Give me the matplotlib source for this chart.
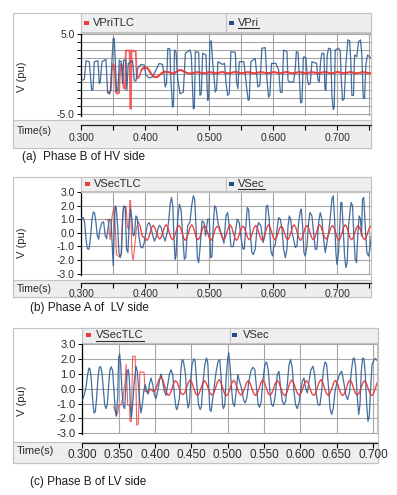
import matplotlib
matplotlib.use("Agg")
import matplotlib.pyplot as plt
from matplotlib.patches import Rectangle
from matplotlib.ticker import MultipleLocator, FixedLocator, FormatStrFormatter

plt.rcParams['font.family'] = ['Liberation Sans', 'DejaVu Sans']

# ------------------------------------------------------------------ data
# Panel (a): Phase B of HV side  -- VPri (blue), VPriTLC (red)
a_blue_t = [0.2995, 0.3047, 0.3073, 0.3125, 0.3146, 0.3161, 0.3182, 0.3203, 0.3260, 0.3281,
            0.3296, 0.3322, 0.3385, 0.3411, 0.3437, 0.3458, 0.3478, 0.3499, 0.3515, 0.3530,
            0.3551, 0.3572, 0.3593, 0.3624, 0.3645, 0.3660, 0.3697, 0.3712, 0.3733, 0.3801,
            0.3827, 0.3853, 0.3879, 0.3931, 0.3983, 0.4009, 0.4061, 0.4113, 0.4165, 0.4217,
            0.4269, 0.4295, 0.4310, 0.4331, 0.4352, 0.4383, 0.4399, 0.4425, 0.4440, 0.4456,
            0.4480, 0.4506, 0.4542, 0.4594, 0.4626, 0.4698, 0.4719, 0.4750, 0.4766, 0.4782,
            0.4834, 0.4854, 0.4875, 0.4896, 0.4948, 0.4974, 0.4990, 0.5010, 0.5031, 0.5052,
            0.5094, 0.5114, 0.5135, 0.5208, 0.5239, 0.5260, 0.5286, 0.5312, 0.5338, 0.5406,
            0.5426, 0.5447, 0.5468, 0.5541, 0.5562, 0.5582, 0.5608, 0.5624, 0.5650, 0.5718,
            0.5738, 0.5759, 0.5790, 0.5822, 0.5874, 0.5900, 0.5926, 0.5946, 0.5972, 0.6042,
            0.6084, 0.6110, 0.6136, 0.6162, 0.6214, 0.6230, 0.6250, 0.6318, 0.6344, 0.6360,
            0.6386, 0.6406, 0.6427, 0.6448, 0.6469, 0.6479, 0.6510, 0.6531, 0.6552, 0.6578,
            0.6604, 0.6677, 0.6698, 0.6718, 0.6739, 0.6760, 0.6791, 0.6807, 0.6822, 0.6843,
            0.6864, 0.6895, 0.6916, 0.6937, 0.6952, 0.6968, 0.7020, 0.7046, 0.7062, 0.7082,
            0.7108, 0.7134, 0.7166, 0.7192, 0.7212, 0.7228, 0.7254, 0.7270, 0.7306, 0.7332,
            0.7363, 0.7384, 0.7405, 0.7426, 0.7446, 0.7472, 0.7519, 0.7535]
a_blue_v = [-0.91, -0.70, 1.62, 1.50, -0.61, -2.09, -1.96, 1.50, 1.62, -1.24,
            -1.03, 1.50, 1.79, -2.30, -2.51, -2.09, 1.50, 4.45, 4.37, 1.50,
            -2.22, -2.13, 1.71, 1.50, -1.24, 1.71, 1.71, -2.09, 1.29, 1.62,
            -0.82, -0.95, 0.65, 1.16, 1.08, -0.19, -0.53, -0.40, 0.44, 1.29,
            1.16, -0.19, -1.67, -1.24, 3.19, 3.10, -0.61, -4.20, -3.99, 2.97,
            2.76, -0.61, -2.51, -2.30, 2.55, 2.97, 2.34, -4.41, -4.32, 2.76,
            2.68, -2.72, -2.51, 2.55, 2.34, -3.35, -3.14, 4.03, 4.11, 1.50,
            -2.30, -1.88, 1.50, 1.16, 1.29, -1.03, -2.72, -2.51, 2.76, 2.68,
            -1.03, -1.88, 1.50, 1.50, -0.19, -1.67, -3.35, -3.23, 1.50, 1.92,
            0.23, -1.67, -1.46, 3.19, 3.27, -0.61, -2.93, -2.72, 1.29, 1.29,
            0.44, -2.30, -2.38, 2.97, 2.76, -0.82, -1.03, -1.03, 0.65, 2.76,
            2.68, -0.19, -3.65, -3.57, 1.92, 2.13, 2.00, -0.61, -1.37, -1.24,
            1.50, 1.29, -0.82, -1.03, 1.50, 2.55, 2.55, -1.88, -2.09, 2.34,
            3.19, 3.10, -2.72, -4.49, -4.20, 2.97, 3.19, 2.85, -0.61, -3.35,
            -3.14, 1.08, 4.24, 4.16, 1.50, -2.72, -2.72, 2.34, 2.13, 4.03,
            4.24, 2.34, -2.93, -3.14, 1.08, 2.34, 2.00, 1.90]
a_red_early_t = [0.3411, 0.3437, 0.3458, 0.3478, 0.3500, 0.3520, 0.3540, 0.3560, 0.3590,
                 0.3610, 0.3640, 0.3660, 0.3685, 0.3695, 0.3755, 0.3765, 0.3775, 0.3785, 0.3850,
                 0.3865, 0.3880, 0.3910, 0.3940, 0.3980, 0.4020, 0.4060, 0.4100, 0.4140, 0.4180,
                 0.4220, 0.4260, 0.4300, 0.4360, 0.4420]
a_red_early_v = [-2.30, -2.51, -2.09, 0.50, 1.20, 0.80, -2.30, -2.50, -2.40,
                 1.20, 1.00, -1.80, -1.90, 2.90, 2.90, -4.40, -4.40, 2.90, 2.80,
                 0.00, -0.60, -0.30, 0.50, 0.75, 0.80, 0.40, -0.10, -0.40, -0.45,
                 -0.20, 0.10, 0.25, 0.20, 0.05]
a_red_steady_start, a_red_steady_step = 0.445, 0.005
a_red_steady_v = [0.02, 0.35, 0.48, 0.30, 0.10, 0.02, 0.08, 0.18, 0.15, 0.06,
                  0.10, 0.20, 0.14, 0.06, 0.12, 0.20, 0.13, 0.05, 0.12, 0.21,
                  0.14, 0.06, 0.11, 0.19, 0.13, 0.05, 0.12, 0.20, 0.14, 0.07,
                  0.11, 0.19, 0.14, 0.06, 0.12, 0.21, 0.13, 0.05, 0.11, 0.20,
                  0.14, 0.06, 0.12, 0.19, 0.13, 0.06, 0.12, 0.20, 0.14, 0.05,
                  0.11, 0.21, 0.14, 0.06, 0.12, 0.20, 0.13, 0.05, 0.12, 0.19,
                  0.14, 0.06, 0.12]

# Panel (b): Phase A of LV side -- VSec (blue), VSecTLC (red)
b_blue_t = [0.2995, 0.3031, 0.3052, 0.3073, 0.3094, 0.3120, 0.3146, 0.3166, 0.3187, 0.3208,
            0.3229, 0.3250, 0.3270, 0.3291, 0.3322, 0.3348, 0.3374, 0.3395, 0.3416, 0.3437,
            0.3463, 0.3484, 0.3499, 0.3515, 0.3530, 0.3546, 0.3567, 0.3588, 0.3608, 0.3629,
            0.3650, 0.3666, 0.3686, 0.3707, 0.3728, 0.3749, 0.3770, 0.3790, 0.3811, 0.3832,
            0.3853, 0.3874, 0.3900, 0.3926, 0.3957, 0.3983, 0.4009, 0.4035, 0.4061, 0.4092,
            0.4118, 0.4144, 0.4170, 0.4196, 0.4222, 0.4248, 0.4279, 0.4310, 0.4342, 0.4368,
            0.4388, 0.4409, 0.4430, 0.4446, 0.4466, 0.4480, 0.4506, 0.4532, 0.4558, 0.4584,
            0.4610, 0.4631, 0.4662, 0.4698, 0.4724, 0.4750, 0.4771, 0.4792, 0.4813, 0.4834,
            0.4854, 0.4886, 0.4917, 0.4943, 0.4974, 0.5000, 0.5021, 0.5042, 0.5062, 0.5083,
            0.5104, 0.5135, 0.5166, 0.5198, 0.5229, 0.5260, 0.5286, 0.5312, 0.5338, 0.5374,
            0.5406, 0.5437, 0.5468, 0.5499, 0.5525, 0.5546, 0.5572, 0.5593, 0.5614, 0.5640,
            0.5666, 0.5686, 0.5718, 0.5744, 0.5770, 0.5806, 0.5842, 0.5868, 0.5889, 0.5910,
            0.5936, 0.5962, 0.5988, 0.6006, 0.6032, 0.6058, 0.6084, 0.6110, 0.6136, 0.6162,
            0.6188, 0.6214, 0.6230, 0.6250, 0.6271, 0.6292, 0.6318, 0.6344, 0.6370, 0.6396,
            0.6422, 0.6438, 0.6458, 0.6479, 0.6500, 0.6526, 0.6552, 0.6573, 0.6604, 0.6630,
            0.6656, 0.6682, 0.6708, 0.6734, 0.6760, 0.6786, 0.6812, 0.6838, 0.6864, 0.6890,
            0.6916, 0.6937, 0.6958, 0.6978, 0.6994, 0.7020, 0.7041, 0.7056, 0.7072, 0.7093,
            0.7114, 0.7134, 0.7155, 0.7176, 0.7202, 0.7218, 0.7238, 0.7259, 0.7280, 0.7301,
            0.7322, 0.7342, 0.7363, 0.7379, 0.7394, 0.7415, 0.7436, 0.7462, 0.7488, 0.7509,
            0.7530]
b_blue_v = [1.01, 1.13, 0.76, -0.47, -1.16, -1.20, -0.22, 1.01, 1.55, 1.45,
            0.76, -0.22, -0.47, 0.27, 0.76, 0.81, -0.22, -0.42, 0.27, 1.01,
            0.96, -0.96, -2.43, 0.52, 1.99, 1.87, 0.52, -1.45, -1.82, -1.45,
            1.50, 1.99, 1.87, -1.20, -1.45, 0.76, 1.75, 1.01, -0.22, -0.10,
            1.25, 1.13, -0.22, -1.01, -1.11, -0.71, 0.02, 0.64, 0.76, 0.32,
            -0.22, -0.61, -0.27, 0.27, 0.57, 0.40, -0.22, -0.59, 0.02, 1.01,
            2.11, 2.61, 1.99, -0.22, -1.94, -1.70, 1.01, 2.11, 1.75, -0.22,
            -1.94, -1.82, 0.52, 0.81, 1.99, 2.73, 2.48, 0.52, -1.82, -2.19,
            -1.20, 0.89, 0.76, -0.22, 1.01, 1.01, -1.82, -1.75, 0.52, 1.99,
            1.87, 0.76, 0.27, -0.22, -0.76, 1.25, 1.50, 0.52, -1.01, -1.01,
            0.02, 1.01, 0.76, -0.47, -1.16, -1.20, 0.52, 1.87, 1.75, 0.02,
            -1.45, -1.60, -1.20, 0.27, 0.76, 0.52, -0.71, -0.22, 1.94, 2.04,
            1.01, -1.33, -1.70, -1.08, -0.84, 0.27, 1.13, 1.01, 0.27, -1.20,
            -1.82, -1.20, 0.52, 1.25, 1.01, 0.02, -0.47, -1.08, -0.96, 0.76,
            1.62, 1.75, 0.52, -1.45, -1.70, -0.96, 0.76, 1.50, 1.25, 0.02,
            -1.20, -1.20, 0.76, 1.50, 1.01, -0.47, -1.45, -0.71, 0.02, 1.13,
            2.48, 2.73, 1.01, -1.45, -2.31, -1.45, 0.76, 2.24, 2.24, 0.27,
            -1.70, -2.56, -2.19, 0.52, 1.75, 2.24, 1.99, -0.22, -1.94, -2.19,
            0.02, 1.25, 1.01, -0.22, 2.48, 2.61, 0.52, -1.45, -1.70, -1.20,
            -0.22]
b_red_early_t = [0.3380, 0.3420, 0.3450, 0.3480, 0.3510, 0.3530, 0.3550, 0.3590, 0.3620, 0.3640,
                 0.3660, 0.3700, 0.3720, 0.3740, 0.3760, 0.3770, 0.3790, 0.3810, 0.3830, 0.3860,
                 0.3890, 0.3920, 0.3950, 0.3975]
b_red_early_v = [1.00, 0.90, -0.50, 1.20, 1.90, 0.50, -1.60, -1.75, -1.60, 0.80,
                 1.90, 1.95, 0.50, 0.20, 2.40, 2.30, -1.50, -2.00, -1.20, 0.30,
                 0.85, 0.50, -0.20, -0.35]
b_red_steady_start, b_red_steady_step = 0.4000, 0.0025
b_red_steady_v = [-0.38, -0.55, -0.40, 0.02, 0.40, 0.55, 0.38, 0.02,
                  -0.32, -0.45, -0.30, 0.05, 0.43, 0.60, 0.42, 0.03,
                  -0.35, -0.50, -0.34, 0.04, 0.39, 0.55, 0.40, 0.01,
                  -0.39, -0.55, -0.38, 0.02, 0.42, 0.60, 0.41, 0.02,
                  -0.36, -0.50, -0.35, 0.03, 0.40, 0.55, 0.38, 0.00,
                  -0.38, -0.55, -0.39, 0.01, 0.36, 0.50, 0.36, 0.02,
                  -0.35, -0.50, -0.34, 0.05, 0.43, 0.60, 0.41, 0.03,
                  -0.39, -0.55, -0.37, 0.00, 0.35, 0.50, 0.36, 0.01,
                  -0.36, -0.50, -0.33, 0.04, 0.40, 0.55, 0.39, 0.02,
                  -0.38, -0.55, -0.39, 0.02, 0.42, 0.60, 0.43, 0.03,
                  -0.35, -0.50, -0.36, 0.01, 0.36, 0.50, 0.35, 0.00,
                  -0.36, -0.50, -0.34, 0.04, 0.43, 0.60, 0.42, 0.02,
                  -0.39, -0.55, -0.38, 0.02, 0.39, 0.55, 0.40, 0.01,
                  -0.35, -0.50, -0.36, 0.03, 0.42, 0.60, 0.41, 0.02,
                  -0.32, -0.45, -0.31, 0.04, 0.39, 0.55, 0.38, 0.01,
                  -0.39, -0.55, -0.38, 0.02, 0.43, 0.60, 0.42, 0.02,
                  -0.36, -0.50, -0.35, 0.03, 0.40, 0.55, 0.38, 0.01,
                  -0.35, -0.50, -0.36, 0.01, 0.36, 0.50, 0.35, 0.00]

# Panel (c): Phase B of LV side -- VSec (blue), VSecTLC (red)
c_blue_t = [0.2996, 0.3005, 0.3028, 0.3050, 0.3073, 0.3092, 0.3106, 0.3124, 0.3142, 0.3161,
            0.3179, 0.3197, 0.3216, 0.3234, 0.3252, 0.3271, 0.3289, 0.3308, 0.3326, 0.3344,
            0.3363, 0.3381, 0.3399, 0.3418, 0.3436, 0.3454, 0.3468, 0.3487, 0.3500, 0.3514,
            0.3528, 0.3546, 0.3565, 0.3583, 0.3601, 0.3620, 0.3633, 0.3647, 0.3661, 0.3675,
            0.3693, 0.3716, 0.3739, 0.3757, 0.3776, 0.3794, 0.3808, 0.3826, 0.3845, 0.3867,
            0.3886, 0.3904, 0.3923, 0.3946, 0.3969, 0.3991, 0.4014, 0.4037, 0.4060, 0.4083,
            0.4106, 0.4129, 0.4152, 0.4175, 0.4198, 0.4221, 0.4244, 0.4267, 0.4290, 0.4304,
            0.4314, 0.4337, 0.4355, 0.4374, 0.4392, 0.4420, 0.4438, 0.4456, 0.4475, 0.4493,
            0.4511, 0.4534, 0.4553, 0.4576, 0.4599, 0.4622, 0.4640, 0.4658, 0.4686, 0.4709,
            0.4727, 0.4741, 0.4755, 0.4773, 0.4796, 0.4819, 0.4842, 0.4869, 0.4892, 0.4910,
            0.4929, 0.4943, 0.4961, 0.4979, 0.5002, 0.5016, 0.5035, 0.5053, 0.5071, 0.5094,
            0.5117, 0.5140, 0.5163, 0.5190, 0.5218, 0.5241, 0.5264, 0.5292, 0.5319, 0.5347,
            0.5374, 0.5397, 0.5420, 0.5439, 0.5462, 0.5484, 0.5512, 0.5535, 0.5558, 0.5581,
            0.5604, 0.5627, 0.5650, 0.5665, 0.5683, 0.5706, 0.5729, 0.5752, 0.5775, 0.5798,
            0.5821, 0.5844, 0.5866, 0.5889, 0.5912, 0.5935, 0.5958, 0.5981, 0.6004, 0.6027,
            0.6050, 0.6073, 0.6096, 0.6119, 0.6146, 0.6174, 0.6197, 0.6220, 0.6243, 0.6270,
            0.6293, 0.6316, 0.6339, 0.6362, 0.6385, 0.6408, 0.6431, 0.6454, 0.6477, 0.6509,
            0.6541, 0.6569, 0.6596, 0.6624, 0.6651, 0.6679, 0.6702, 0.6725, 0.6743, 0.6761,
            0.6784, 0.6803, 0.6821, 0.6839, 0.6858, 0.6876, 0.6894, 0.6913, 0.6931, 0.6949,
            0.6968, 0.6986, 0.7005, 0.7030, 0.7060]
c_blue_v = [-0.80, -0.73, -0.39, 0.06, 0.96, 1.40, 1.36, 0.62, -0.73, -1.63,
            -1.56, -0.62, 0.73, 1.45, 1.49, 1.07, 0.06, -1.07, -1.34, -1.07,
            0.28, 1.29, 1.49, 1.18, -0.17, -1.47, -1.85, -0.62, 2.08, 2.35,
            1.63, -0.17, -1.18, -1.34, 0.28, 1.18, 1.29, 0.73, -1.07, -1.97,
            -1.07, 0.51, 1.52, 1.18, 0.06, -1.07, -1.63, -1.07, -0.17, 0.28,
            -0.17, -0.35, 0.28, 0.73, 0.28, -0.39, -0.66, -0.17, 0.51, 1.00,
            0.51, -0.17, -0.44, 0.28, 0.96, 1.29, 0.96, -0.39, -1.29, -1.40,
            -1.18, -0.62, 1.18, 1.97, 1.85, 0.96, -0.62, -1.29, -0.96, 0.73,
            1.63, 2.03, 1.85, 0.28, -1.07, -1.40, -1.18, 0.28, 1.63, 2.08,
            1.74, 0.06, -1.40, -1.52, -0.62, 0.28, 1.18, 1.85, 1.97, 0.73,
            -1.07, -1.34, -1.07, 0.73, 2.08, 2.42, 1.40, 0.06, -0.96, -1.18,
            -0.17, 0.96, 0.51, 0.06, -0.73, -0.96, -0.62, 0.51, 1.18, 1.45,
            1.29, 0.06, -1.07, -1.25, -0.84, 0.51, 1.63, 1.81, 1.29, -0.17,
            -1.07, -1.18, -0.62, 0.06, 0.96, 1.18, 0.06, -0.84, -1.07, -0.84,
            0.28, 1.63, 1.97, 1.40, -0.17, -1.07, -1.34, -0.96, -0.17, 0.51,
            0.73, 0.06, -0.28, 0.51, 1.29, 1.52, 0.96, -0.39, -1.07, -1.11,
            -0.17, 1.18, 1.81, 1.67, 0.28, -1.29, -1.74, -1.29, -0.17, 0.51,
            1.00, 1.18, 0.51, -0.39, -0.73, -0.17, 1.18, 2.03, 2.08, 1.40,
            -0.62, -1.74, -1.07, 1.18, 2.08, 2.03, 0.96, -1.07, -2.19, -1.85,
            0.06, 1.63, 1.85, 2.05, 1.90]
c_red_early_t = [0.3430, 0.3455, 0.3470, 0.3490, 0.3500, 0.3530, 0.3560, 0.3590, 0.3602, 0.3615,
                 0.3625, 0.3650, 0.3657, 0.3675, 0.3693, 0.3726, 0.3740, 0.3749, 0.3770, 0.3794,
                 0.3850, 0.3863, 0.3886, 0.3910, 0.3930]
c_red_early_v = [-1.20, -1.50, -1.80, -1.60, -1.10, -1.10, -0.60, 0.50, 1.65, 0.30,
                 -1.10, -1.10, -2.20, -2.20, 2.20, 2.20, 0.00, -2.45, -2.40, 1.15,
                 1.10, -0.20, -0.10, -0.30, 0.00]
c_red_steady_start, c_red_steady_step = 0.3958, 0.0025
c_red_steady_v = [-0.10, -0.20, -0.05, 0.30, 0.65, 0.80, 0.60, 0.20,
                  -0.25, -0.45, -0.35, 0.00, 0.40, 0.55, 0.40, 0.05,
                  -0.30, -0.40, -0.30, 0.05, 0.42, 0.60, 0.42, 0.05,
                  -0.32, -0.45, -0.32, 0.02, 0.38, 0.55, 0.38, 0.02,
                  -0.30, -0.42, -0.30, 0.04, 0.44, 0.62, 0.43, 0.05,
                  -0.33, -0.47, -0.33, 0.02, 0.40, 0.58, 0.41, 0.03,
                  -0.30, -0.42, -0.31, 0.03, 0.38, 0.55, 0.39, 0.02,
                  -0.32, -0.45, -0.32, 0.04, 0.43, 0.60, 0.42, 0.04,
                  -0.31, -0.44, -0.30, 0.02, 0.39, 0.56, 0.40, 0.03,
                  -0.33, -0.46, -0.33, 0.03, 0.42, 0.60, 0.41, 0.03,
                  -0.30, -0.43, -0.31, 0.02, 0.38, 0.55, 0.39, 0.02,
                  -0.32, -0.45, -0.33, 0.04, 0.43, 0.62, 0.43, 0.04,
                  -0.31, -0.44, -0.31, 0.02, 0.40, 0.57, 0.40, 0.03,
                  -0.33, -0.46, -0.32, 0.03, 0.42, 0.60, 0.42, 0.03,
                  -0.30, -0.43, -0.30, 0.02, 0.38, 0.55, 0.38, 0.02,
                  -0.32, -0.45, -0.32, 0.04, 0.43, 0.60, 0.42, 0.03]

legend_names = [("VPriTLC", "VPri"), ("VSecTLC", "VSec"), ("VSecTLC", "VSec")]
captions = ["(a)  Phase B of HV side", "(b) Phase A of  LV side", "(c) Phase B of LV side"]


def sampled(start, step, values):
    return [round(start + i * step, 5) for i in range(len(values))]


a_red_t = a_red_early_t + sampled(a_red_steady_start, a_red_steady_step, a_red_steady_v)
a_red_v = a_red_early_v + a_red_steady_v
b_red_t = b_red_early_t + sampled(b_red_steady_start, b_red_steady_step, b_red_steady_v)
b_red_v = b_red_early_v + b_red_steady_v
c_red_t = c_red_early_t + sampled(c_red_steady_start, c_red_steady_step, c_red_steady_v)
c_red_v = c_red_early_v + c_red_steady_v

# ------------------------------------------------------------------ style
W, H = 397, 495
BLUE = '#2f5f95'
RED = '#f03a3a'
GRID = '#a6a6a6'
BAR = '#eeeeee'
EDGE = '#c2c2c2'
TXT = '#2b2b2b'

fig = plt.figure(figsize=(W / 100, H / 100), dpi=100)
bg = fig.add_axes([0, 0, 1, 1])
bg.set_xlim(0, W)
bg.set_ylim(H, 0)
bg.axis('off')


def frac(x0, y0, x1, y1):
    return [x0 / W, 1 - y1 / H, (x1 - x0) / W, (y1 - y0) / H]


def box(x0, y0, x1, y1, fc, ec=EDGE, lw=0.8):
    bg.add_patch(Rectangle((x0, y0), x1 - x0, y1 - y0, facecolor=fc, edgecolor=ec, linewidth=lw))


panels = [
    dict(frame=(13, 13, 371, 148), leg=(81, 13, 371, 32), div=226, plot=(81, 33, 371, 116),
         tbar=(13, 120, 371, 148), axis_y=125, ylim=(-5.3, 5.1), ymajor=[-5.0, 5.0], yminor=1.0,
         xlim=(0.2995, 0.7527), xmajor=0.1, xminor=0.05, tfs=7.5, yfs=7.5, red_lw=1.3,
         red_mark=(84, 20.5), blue_mark=(229, 20.5), red_txt=(93, 22.8), blue_txt=(238, 22.8),
         under=1, timelab_y=131.5, vlabel_y=77, cap=(22, 157), tlab_fs=7.5, xpad=2.5),
    dict(frame=(13, 177, 371, 297), leg=(81, 177, 371, 191), div=226, plot=(81, 191.5, 371, 275),
         tbar=(13, 280, 371, 297), axis_y=283.3, ylim=(-3.1, 3.05), ymajor=[-3, -2, -1, 0, 1, 2, 3],
         yminor=None, xlim=(0.2995, 0.7527), xmajor=0.1, xminor=0.05, tfs=7.5, yfs=7.5, red_lw=0.8,
         red_mark=(85, 182), blue_mark=(229, 182), red_txt=(94, 184), blue_txt=(238, 184),
         under=1, timelab_y=289.5, vlabel_y=243, cap=(30, 308.5), tlab_fs=7.5, xpad=0.5),
    dict(frame=(13, 328, 378, 463), leg=(82, 328, 378, 343), div=230, plot=(82, 343.3, 377, 434.3),
         tbar=(13, 441.7, 378, 463), axis_y=443, ylim=(-3.07, 3.07), ymajor=[-3, -2, -1, 0, 1, 2, 3],
         yminor=None, xlim=(0.2996, 0.7055), xmajor=0.05, xminor=None, tfs=8.5, yfs=8, red_lw=0.8,
         red_mark=(86, 333), blue_mark=(232, 333), red_txt=(96, 335.5), blue_txt=(243, 335.5),
         under=0, timelab_y=451, vlabel_y=401, cap=(30, 482), tlab_fs=8, xpad=0.8),
]
series = [(a_blue_t, a_blue_v, a_red_t, a_red_v),
          (b_blue_t, b_blue_v, b_red_t, b_red_v),
          (c_blue_t, c_blue_v, c_red_t, c_red_v)]

underline_jobs = []
for p, (bt, bv, rt, rv), names, cap in zip(panels, series, legend_names, captions):
    x0, y0, x1, y1 = p['frame']
    box(x0, y0, x1, y1, 'white')
    box(*p['tbar'], BAR)
    lx0, ly0, lx1, ly1 = p['leg']
    box(lx0, ly0, lx1, ly1, BAR)
    bg.plot([p['div'], p['div']], [ly0, ly1], color=EDGE, lw=0.8)
    # legend entries
    bg.add_patch(Rectangle(p['red_mark'], 5, 4, facecolor=RED, edgecolor='none'))
    bg.add_patch(Rectangle(p['blue_mark'], 5, 4, facecolor='#1f4f8a', edgecolor='none'))
    t_red = bg.text(p['red_txt'][0], p['red_txt'][1], names[0], fontsize=8, color=TXT,
                    ha='left', va='center')
    t_blue = bg.text(p['blue_txt'][0], p['blue_txt'][1], names[1], fontsize=8, color=TXT,
                     ha='left', va='center')
    underline_jobs.append((t_blue if p['under'] == 1 else t_red, p['red_txt'][1] + 5))
    # labels
    bg.text(17, p['timelab_y'], 'Time(s)', fontsize=p['tlab_fs'], color=TXT, ha='left', va='center')
    bg.text(22, p['vlabel_y'], 'V (pu)', fontsize=8, color=TXT, rotation=90,
            ha='center', va='center')
    bg.text(p['cap'][0], p['cap'][1], cap, fontsize=8.5, color='#1a1a1a', ha='left', va='center')

    # plot axes
    px0, py0, px1, py1 = p['plot']
    ax = fig.add_axes(frac(px0, py0, px1, py1))
    ax.set_facecolor('white')
    # red underneath blue during the transient, on top of it once settled
    ax.plot(rt, rv, color=RED, lw=p['red_lw'], alpha=0.8, zorder=2)
    ax.plot(bt, bv, color=BLUE, lw=0.9, alpha=0.9, zorder=3)
    settled = [(t, v) for t, v in zip(rt, rv) if t >= 0.392]
    ax.plot([s[0] for s in settled], [s[1] for s in settled], color=RED, lw=p['red_lw'],
            alpha=0.85, zorder=4)
    ax.set_xlim(*p['xlim'])
    ax.set_ylim(*p['ylim'])
    ax.xaxis.set_major_locator(MultipleLocator(p['xmajor']))
    if p['xminor']:
        ax.xaxis.set_minor_locator(MultipleLocator(p['xminor']))
    ax.xaxis.set_major_formatter(FormatStrFormatter('%.3f'))
    ax.yaxis.set_major_locator(FixedLocator(p['ymajor']))
    if p['yminor']:
        ax.yaxis.set_minor_locator(MultipleLocator(p['yminor']))
    ax.yaxis.set_major_formatter(FormatStrFormatter('%.1f'))
    ax.grid(True, which='both', color=GRID, lw=0.8)
    ax.set_axisbelow(True)
    for s in ('top', 'right'):
        ax.spines[s].set_color(EDGE)
        ax.spines[s].set_linewidth(0.8)
    ax.spines['left'].set_color('black')
    ax.spines['left'].set_linewidth(0.9)
    ax.spines['bottom'].set_color('#222222')
    ax.spines['bottom'].set_linewidth(0.9)
    ax.spines['bottom'].set_position(('outward', (p['axis_y'] - py1) * 0.72))
    ax.tick_params(axis='y', which='both', direction='out', length=3, width=0.7,
                   labelsize=p['yfs'], labelcolor=TXT, pad=1.5)
    ax.tick_params(axis='x', which='both', direction='out', length=3.5, width=0.8,
                   labelsize=p['tfs'], labelcolor=TXT, pad=p['xpad'])

fig.canvas.draw()
renderer = fig.canvas.get_renderer()
inv = bg.transData.inverted()
for txt, uy in underline_jobs:
    bb = txt.get_window_extent(renderer)
    (ux0, _), (ux1, _) = inv.transform([(bb.x0, bb.y0), (bb.x1, bb.y0)])
    bg.plot([ux0, ux1], [uy, uy], color='#333333', lw=0.8)

fig.savefig('out.png', dpi=100)
